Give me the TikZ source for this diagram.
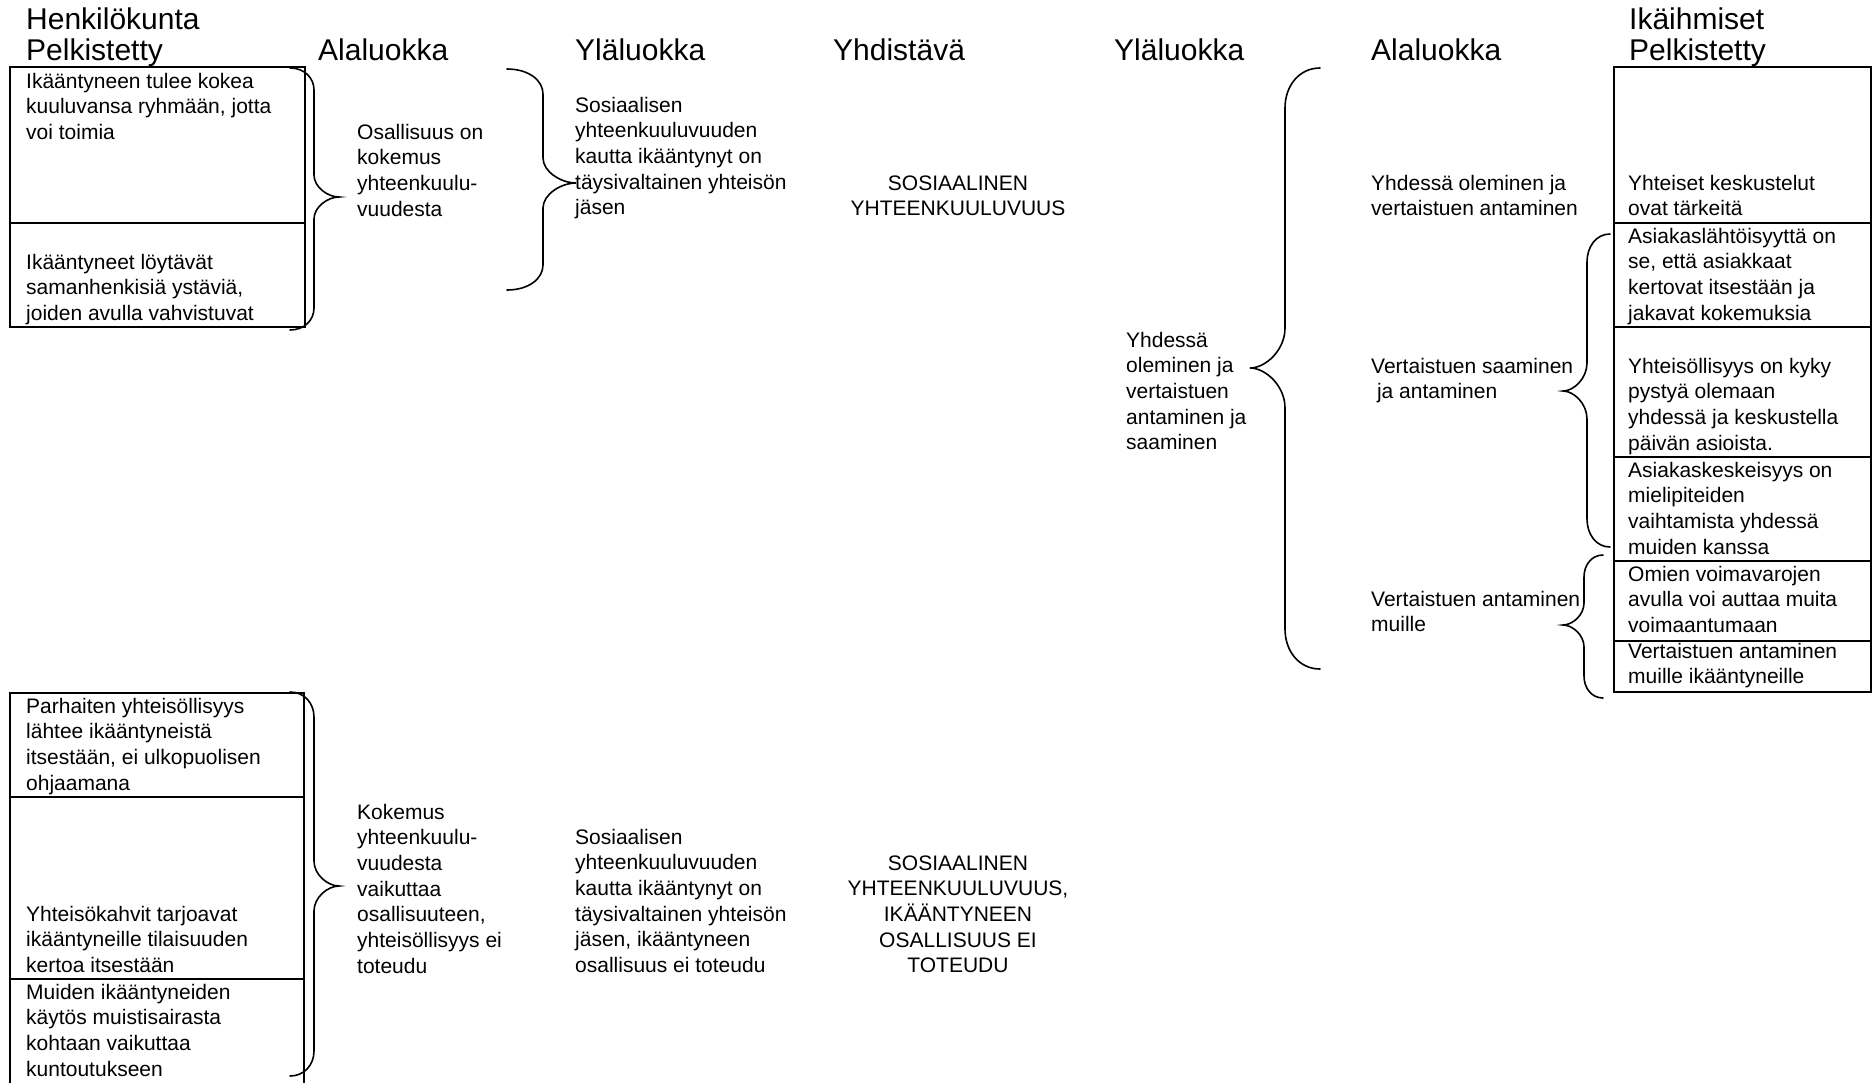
\documentclass[tikz,border=0pt]{standalone}
\usepackage{fontspec}
\setmainfont{Liberation Sans}
\begin{document}
\begin{tikzpicture}[x=1pt,y=-1pt,
  % multi-line nodes are placed by the baseline of their last line
  head/.style={anchor=base west,inner sep=0pt,align=left,font=\fontsize{30}{31}\selectfont},
  cell/.style={anchor=base west,inner sep=0pt,align=left,font=\fontsize{21}{25.7}\selectfont},
  core/.style={anchor=base,inner sep=0pt,align=center,font=\fontsize{21}{25.7}\selectfont},
  frame/.style={line width=2pt},
  bracestyle/.style={line width=1.6pt,line cap=round}]
\newcommand\curlybrace[7]{%
  % #1 x of the ends, #2 x of the spine, #3 x of the tip,
  % #4 top y, #5 tip y, #6 bottom y, #7 length of each bend
  \draw[bracestyle] (#1,#4)
    .. controls ({#1+0.6*(#2-#1)},#4) and (#2,{#4+0.45*#7}) .. (#2,{#4+#7})
    -- (#2,{#5-#7})
    .. controls (#2,{#5-0.45*#7}) and ({#2+0.55*(#3-#2)},#5) .. (#3,#5)
    .. controls ({#2+0.55*(#3-#2)},#5) and (#2,{#5+0.45*#7}) .. (#2,{#5+#7})
    -- (#2,{#6-#7})
    .. controls (#2,{#6-0.45*#7}) and ({#1+0.6*(#2-#1)},#6) .. (#1,#6);
}
\useasboundingbox (0,0) rectangle (1874,1082);
\fill[white] (0,0) rectangle (1874,1082);

% column headings
\node[head] (hStaff) at (26,60) {Henkilökunta\\Pelkistetty};
\node[head] (hSub1) at (318,60) {Alaluokka};
\node[head] (hUp1) at (575,60) {Yläluokka};
\node[head] (hJoin) at (833,60) {Yhdistävä};
\node[head] (hUp2) at (1114,60) {Yläluokka};
\node[head] (hSub2) at (1371,60) {Alaluokka};
\node[head] (hElder) at (1629,60) {Ikäihmiset\\Pelkistetty};

% staff table, upper part
\draw[frame] (10,67) rectangle (305,327);
\draw[frame] (10,223) -- (305,223);
\node[cell] (s1) at (26,139.4) {Ikääntyneen tulee kokea\\kuuluvansa ryhmään, jotta\\voi toimia};
\node[cell] (s2) at (26,320.4) {Ikääntyneet löytävät\\samanhenkisiä ystäviä,\\joiden avulla vahvistuvat};
\curlybrace{290}{314}{339}{68}{197}{330}{22}
\node[cell] (sub1) at (357,216.1) {Osallisuus on\\kokemus\\yhteenkuulu-\\vuudesta};
\curlybrace{507}{543}{576}{69}{183}{290}{25}
\node[cell] (up1) at (575,214.8) {Sosiaalisen\\yhteenkuuluvuuden\\kautta ikääntynyt on\\täysivaltainen yhteisön\\jäsen};
\node[core] (join1) at (958,215.7) {SOSIAALINEN\\YHTEENKUULUVUUS};

% elderly people's side
\node[cell] (up2) at (1126,449.8) {Yhdessä\\oleminen ja\\vertaistuen\\antaminen ja\\saaminen};
\curlybrace{1320}{1285}{1250}{68}{368}{669}{40}
\node[cell] (sub2) at (1371,215.7) {Yhdessä oleminen ja\\vertaistuen antaminen};
\node[cell] (sub3) at (1371,398.7) {Vertaistuen saaminen\\\ ja antaminen};
\node[cell] (sub4) at (1371,631.7) {Vertaistuen antaminen\\muille};
\curlybrace{1610}{1587}{1563}{234}{391}{547}{28}
\curlybrace{1603}{1584}{1563}{555}{625}{698}{22}

\draw[frame] (1614,67) rectangle (1871,692);
\foreach \yy in {223,327,457,561,641} \draw[frame] (1614,\yy) -- (1871,\yy);
\node[cell] (e1) at (1628,215.7) {Yhteiset keskustelut\\ovat tärkeitä};
\node[cell] (e2) at (1628,320.1) {Asiakaslähtöisyyttä on\\se, että asiakkaat\\kertovat itsestään ja\\jakavat kokemuksia};
\node[cell] (e3) at (1628,450.1) {Yhteisöllisyys on kyky\\pystyä olemaan\\yhdessä ja keskustella\\päivän asioista.};
\node[cell] (e4) at (1628,554.1) {Asiakaskeskeisyys on\\mielipiteiden\\vaihtamista yhdessä\\muiden kanssa};
\node[cell] (e5) at (1628,632.4) {Omien voimavarojen\\avulla voi auttaa muita\\voimaantumaan};
\node[cell] (e6) at (1628,683.7) {Vertaistuen antaminen\\muille ikääntyneille};

% staff table, lower part
\draw[frame] (10,1083) -- (10,693) -- (304,693) -- (304,1083);
\draw[frame] (10,797) -- (304,797);
\draw[frame] (10,979) -- (304,979);
\node[cell] (s3) at (26,790.1) {Parhaiten yhteisöllisyys\\lähtee ikääntyneistä\\itsestään, ei ulkopuolisen\\ohjaamana};
\node[cell] (s4) at (26,972.4) {Yhteisökahvit tarjoavat\\ikääntyneille tilaisuuden\\kertoa itsestään};
\node[cell] (s5) at (26,1076.1) {Muiden ikääntyneiden\\käytös muistisairasta\\kohtaan vaikuttaa\\kuntoutukseen};
\curlybrace{290}{314}{339}{692}{886}{1076}{25}
\node[cell] (sub5) at (357,973.2) {Kokemus\\yhteenkuulu-\\vuudesta\\vaikuttaa\\osallisuuteen,\\yhteisöllisyys ei\\toteudu};
\node[cell] (up3) at (575,972.5) {Sosiaalisen\\yhteenkuuluvuuden\\kautta ikääntynyt on\\täysivaltainen yhteisön\\jäsen, ikääntyneen\\osallisuus ei toteudu};
\node[core] (join2) at (958,972.8) {SOSIAALINEN\\YHTEENKUULUVUUS,\\IKÄÄNTYNEEN\\OSALLISUUS EI\\TOTEUDU};
\end{tikzpicture}
\end{document}
